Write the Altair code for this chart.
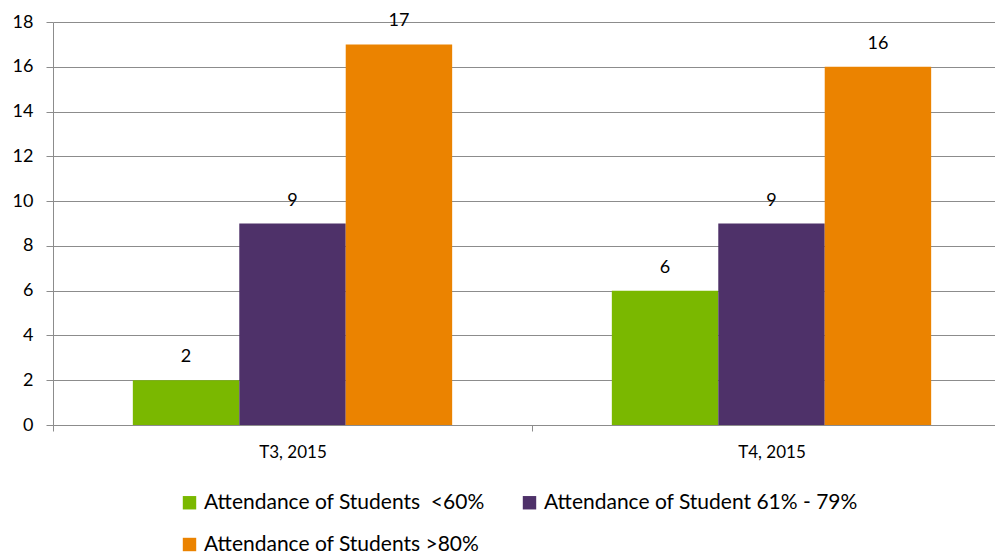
import altair as alt
import pandas as pd

groups = ["T3, 2015", "T4, 2015"]
series = ["Attendance of Students\u00a0 <60%", "Attendance of Student 61% - 79%", "Attendance of Students >80%"]
values_t3 = [2, 9, 17]
values_t4 = [6, 9, 16]
colors = ["#7AB800", "#4E3169", "#EB8300"]

rows = []
for g, vals in zip(groups, [values_t3, values_t4]):
    for s, v in zip(series, vals):
        rows.append({"group": g, "series": s, "value": v})
df = pd.DataFrame(rows)

FONT = "Lato"
FS = 18
XFS = 17
LFS = 21

x = alt.X("group:N", sort=groups, title=None,
          scale=alt.Scale(paddingInner=0, paddingOuter=0, range=[0, 958]),
          axis=alt.Axis(labelAngle=0, tickBand="extent", labelFontSize=XFS, labelFont=FONT,
                        labelColor="#000000", labelPadding=13, tickSize=6,
                        domainColor="#8C8C8C", tickColor="#8C8C8C", grid=False))
xo = alt.XOffset("series:N", sort=series, scale=alt.Scale(paddingInner=0, paddingOuter=0.75))
y = alt.Y("value:Q", title=None,
          scale=alt.Scale(domain=[0, 18], nice=False),
          axis=alt.Axis(values=list(range(0, 19, 2)), labelFontSize=FS, labelFont=FONT,
                        labelColor="#000000", labelPadding=13, tickSize=7,
                        domainColor="#8C8C8C", tickColor="#8C8C8C",
                        gridColor="#8C8C8C", gridWidth=1))

bars = alt.Chart(df).mark_bar().encode(
    x=x, xOffset=xo, y=y,
    color=alt.Color("series:N", sort=series,
                    scale=alt.Scale(domain=series, range=colors),
                    legend=alt.Legend(title=None, orient="none", legendX=126, legendY=470,
                                      direction="horizontal", columns=2,
                                      symbolType="square", symbolSize=180, symbolStrokeWidth=0,
                                      labelFontSize=LFS, labelFont=FONT, labelColor="#000000",
                                      labelOffset=4, columnPadding=34, rowPadding=20,
                                      labelLimit=500))
)

labels = alt.Chart(df).mark_text(fontSize=FS, font=FONT, color="#000000", baseline="bottom", dy=-14).encode(
    x=alt.X("group:N", sort=groups), xOffset=xo, y="value:Q", text="value:Q"
)

chart = alt.layer(bars, labels).properties(
    width=942, height=403,
    autosize=alt.AutoSizeParams(type="none"),
    padding={"left": 45, "top": 14, "right": 0, "bottom": 128},
).configure_view(stroke=None)

chart.save("out.html", embed_options={"renderer": "svg", "actions": False})
